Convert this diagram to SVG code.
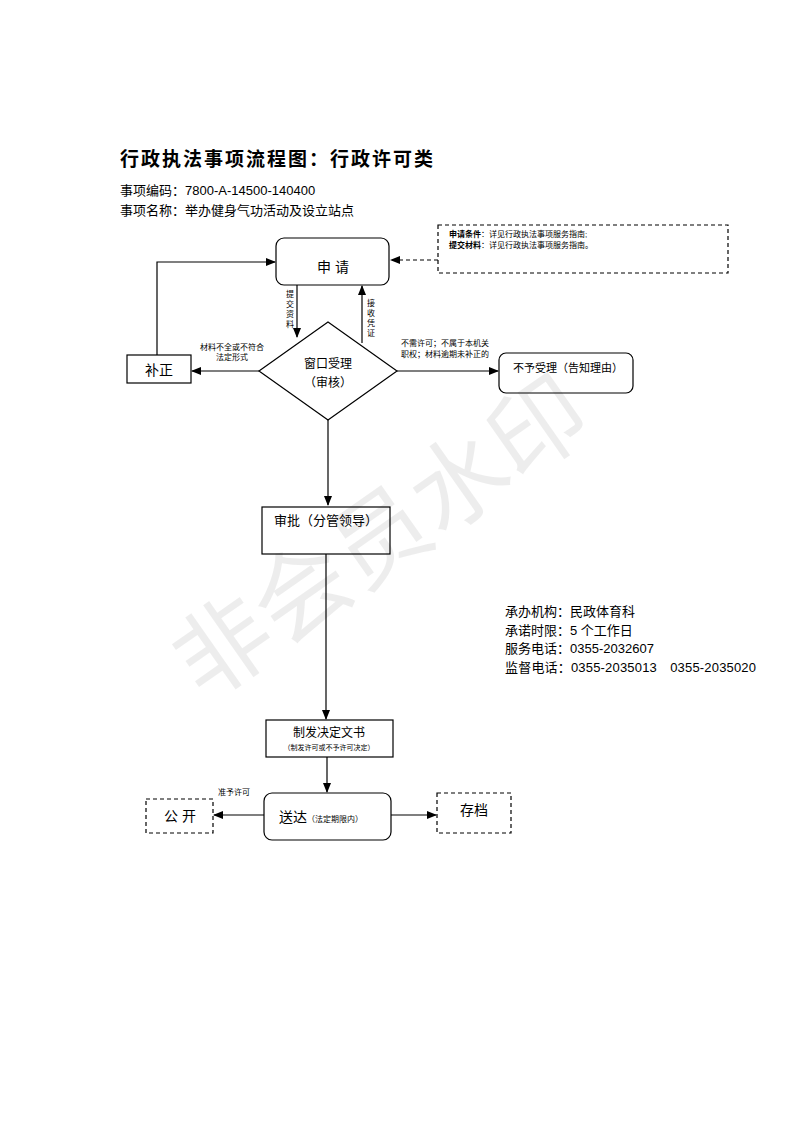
<svg xmlns="http://www.w3.org/2000/svg" width="793" height="1122" viewBox="0 0 793 1122">
<defs>
<marker id="ah" markerWidth="10" markerHeight="8" refX="9" refY="4" orient="auto" markerUnits="userSpaceOnUse"><path d="M0,0 L10,4 L0,8 Z" fill="#000"/></marker>
<style>
text{font-family:"Liberation Sans","Noto Sans CJK SC",sans-serif;fill:#000}
.b{fill:#fff;stroke:#000;stroke-width:1.2}
.d{fill:#fff;stroke:#000;stroke-width:1.2;stroke-dasharray:4,3}
.l{fill:none;stroke:#000;stroke-width:1.2}
.s{font-size:8px}
</style>
</defs>
<rect width="793" height="1122" fill="#fff"/>
<text x="120" y="166" font-size="19" font-weight="bold" style="font-family:'Noto Sans CJK SC',serif" letter-spacing="2">行政执法事项流程图：行政许可类</text>
<text x="120" y="195" font-size="13">事项编码：7800-A-14500-140400</text>
<text x="120" y="215" font-size="13">事项名称：举办健身气功活动及设立站点</text>
<g id="connectors">
<path class="l" d="M438,260 H391" stroke-dasharray="4,3" marker-end="url(#ah)"/>
<path class="l" d="M297,285 V337" marker-end="url(#ah)"/>
<path class="l" d="M362,343 V286" marker-end="url(#ah)"/>
<path class="l" d="M259,371 H192" marker-end="url(#ah)"/>
<path class="l" d="M157,355 V262 H275" marker-end="url(#ah)"/>
<path class="l" d="M397,371 H498" marker-end="url(#ah)"/>
<path class="l" d="M328,420 V505" marker-end="url(#ah)"/>
<path class="l" d="M326,554 V719" marker-end="url(#ah)"/>
<path class="l" d="M327,757 V792" marker-end="url(#ah)"/>
<path class="l" d="M264,815 H214" marker-end="url(#ah)"/>
<path class="l" d="M391,815 H436" marker-end="url(#ah)"/>
<text class="s"><tspan x="286" y="297">提</tspan><tspan x="286" y="307">交</tspan><tspan x="286" y="317">资</tspan><tspan x="286" y="327">料</tspan></text>
<text class="s"><tspan x="367" y="306">接</tspan><tspan x="367" y="316">收</tspan><tspan x="367" y="326">凭</tspan><tspan x="367" y="336">证</tspan></text>
<text class="s" x="232" y="350" text-anchor="middle">材料不全或不符合</text>
<text class="s" x="232" y="360" text-anchor="middle">法定形式</text>
<text class="s" x="401" y="346">不需许可；不属于本机关</text>
<text class="s" x="401" y="357">职权；材料逾期未补正的</text>
<text class="s" x="218" y="795">准予许可</text>
</g>
<g id="note"><rect class="d" x="438" y="225" width="290" height="48"/>
<text class="s" x="449" y="237"><tspan font-weight="bold">申请条件</tspan>：详见行政执法事项服务指南;</text>
<text class="s" x="449" y="248"><tspan font-weight="bold">提交材料</tspan>：详见行政执法事项服务指南。</text></g>
<g id="apply"><rect class="b" x="276" y="238" width="113" height="47" rx="8"/><text x="333" y="272" font-size="14" text-anchor="middle">申 请</text></g>
<g id="window"><path class="b" d="M328,322 L397,371 L328,420 L259,371 Z"/><text x="328" y="368" font-size="12" text-anchor="middle">窗口受理</text><text x="328" y="387" font-size="12" text-anchor="middle">（审核）</text></g>
<g id="fix"><rect class="b" x="127" y="355" width="64" height="28"/><text x="159" y="375" font-size="14" text-anchor="middle">补正</text></g>
<g id="reject"><rect class="b" x="499" y="353" width="134" height="40" rx="7"/><text x="513" y="372" font-size="11">不予受理（告知理由）</text></g>
<g id="approve"><rect class="b" x="262" y="507" width="128" height="47"/><text x="326" y="525" font-size="13" text-anchor="middle">审批（分管领导）</text></g>
<g id="issue"><rect class="b" x="266" y="720" width="127" height="37"/><text x="329" y="737" font-size="12" text-anchor="middle">制发决定文书</text><text x="329" y="750" font-size="7" text-anchor="middle">（制发许可或不予许可决定）</text></g>
<g id="deliver"><rect class="b" x="264" y="793" width="127" height="47" rx="8"/><text x="279" y="822" font-size="14">送达<tspan font-size="8">（法定期限内）</tspan></text></g>
<g id="public"><rect class="d" x="146" y="799" width="67" height="34"/><text x="180" y="821" font-size="14" text-anchor="middle">公 开</text></g>
<g id="archive"><rect class="d" x="437" y="793" width="74" height="40"/><text x="474" y="815" font-size="14" text-anchor="middle">存档</text></g>
<g id="info">
<text x="505" y="616" font-size="13">承办机构：民政体育科</text>
<text x="505" y="635" font-size="13">承诺时限：5 个工作日</text>
<text x="505" y="653" font-size="13">服务电话：0355-2032607</text>
<text x="505" y="672" font-size="13" textLength="251" lengthAdjust="spacing">监督电话：0355-2035013　0355-2035020</text>
</g>
<text x="400" y="565" font-size="96" text-anchor="middle" transform="rotate(-35 400 565)" style="fill:#000;fill-opacity:0.07">非会员水印</text>
</svg>
